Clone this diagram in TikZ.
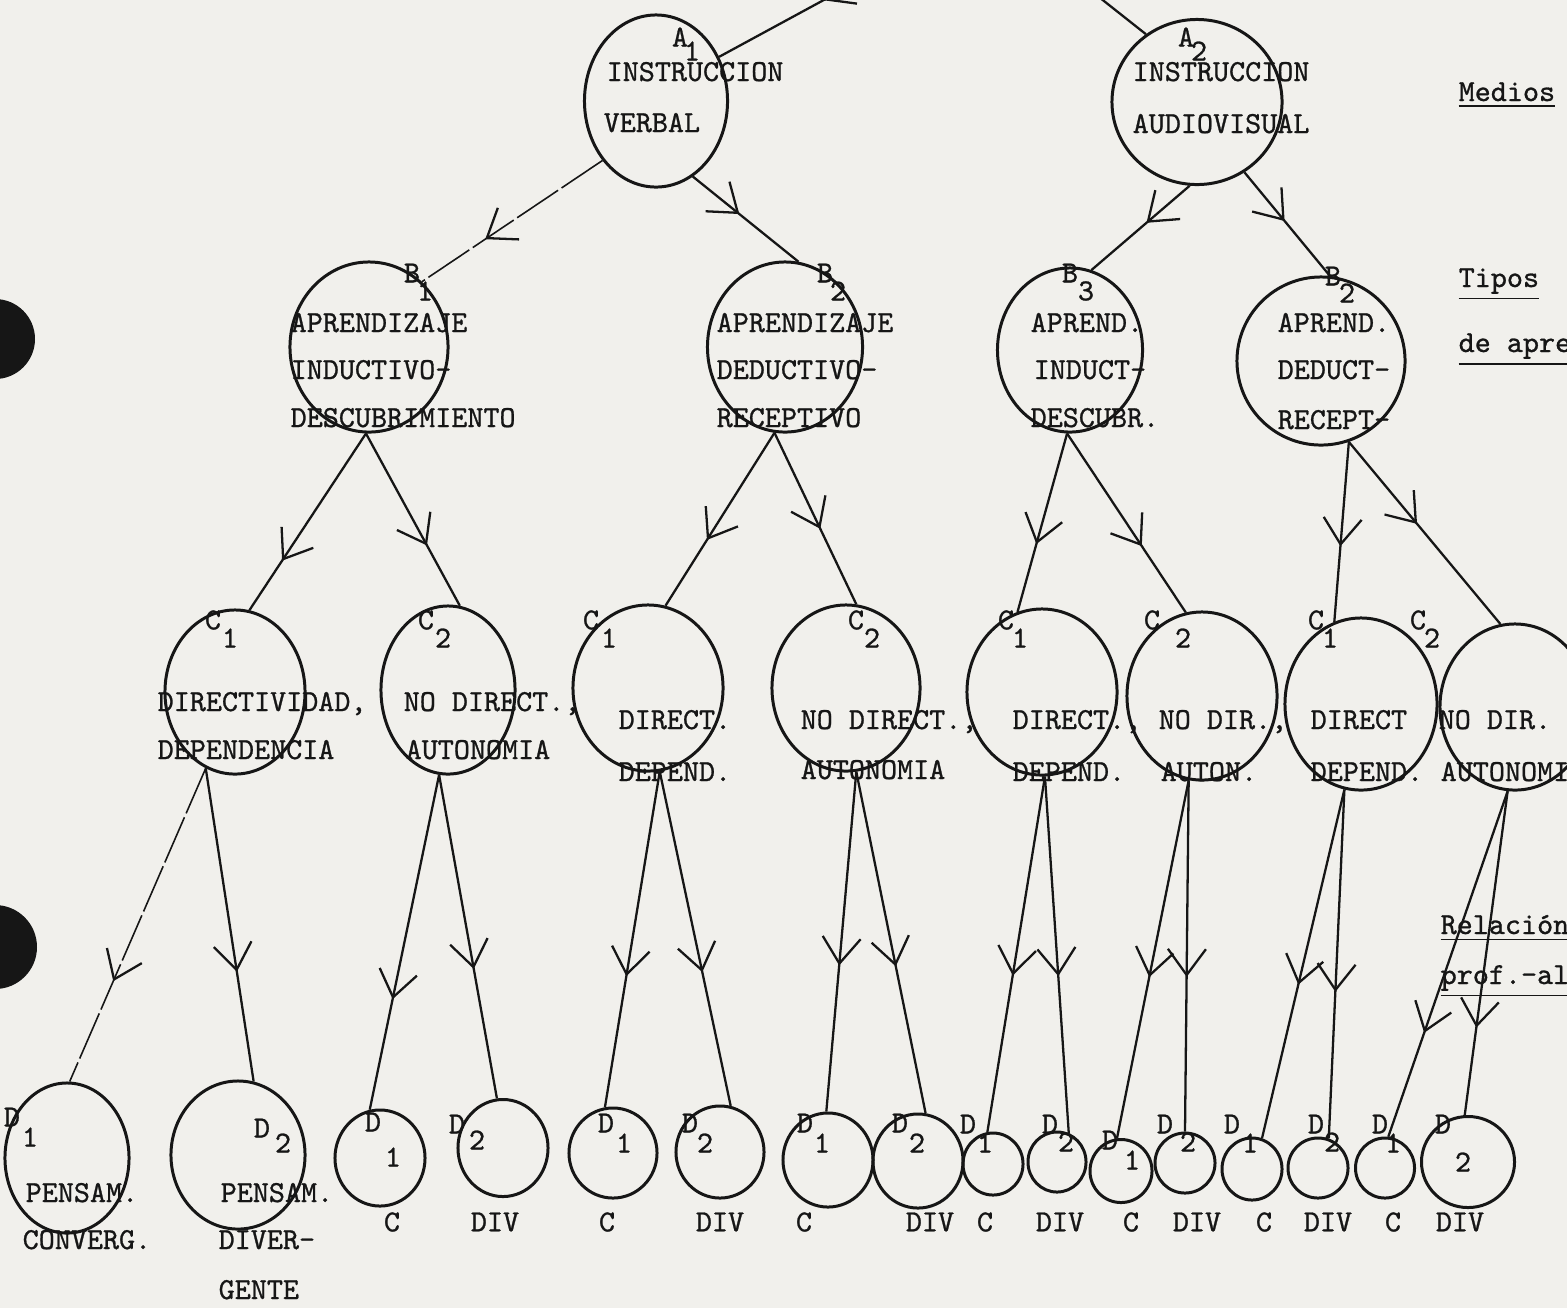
\documentclass[tikz,border=0pt]{standalone}
\usepackage{fontspec}
\newfontfamily\typew[FakeBold=0.9]{lmmono10-regular.otf}
\usetikzlibrary{shapes.geometric,arrows.meta,decorations.markings}
\begin{document}
\begin{tikzpicture}[x=0.01cm, y=-0.01cm,
    bubble/.style 2 args={draw=ink, ellipse, line width=0.85pt, inner sep=0pt, minimum width=#1cm, minimum height=#2cm},
    txt/.style={ink, font=\fontsize{8.7}{10}\selectfont\typew, inner sep=0pt, anchor=base west},
    tag/.style={ink, font=\fontsize{8.7}{10}\selectfont\typew, inner sep=0pt},
    link/.style={draw=ink, color=ink, line width=0.65pt, postaction={decorate},
        decoration={markings, mark=at position #1 with {\arrow{Straight Barb[length=2.6mm, width=3.8mm, line width=0.65pt]}}}},
    faint/.style={line width=0.45pt, dash pattern=on 14pt off 1.2pt}]
    % Define colors
    \definecolor{paper}{RGB}{241,240,236}
    \definecolor{ink}{RGB}{22,22,22}

    % Sheet
    \useasboundingbox (0,0) rectangle (1567,1308);
    \clip (0,0) rectangle (1567,1308);
    \fill[paper] (0,0) rectangle (1567,1308);

    % Punch holes
    \fill[ink] (-5,339) circle (40);
    \fill[ink] (-5,947) circle (42);

    % Level A: medios
    \node[bubble={1.43}{1.72}] (A1) at (656,101) {};
    \node[bubble={1.70}{1.65}] (A2) at (1197,102) {};

    % Level B: tipos de aprendizaje
    \node[bubble={1.58}{1.70}] (B1) at (369,347) {};
    \node[bubble={1.55}{1.70}] (B2) at (785,347) {};
    \node[bubble={1.45}{1.64}] (B3) at (1070,350) {};
    \node[bubble={1.68}{1.68}] (B4) at (1321,361) {};

    % Level C: relacion profesor-alumno
    \node[bubble={1.40}{1.64}] (Ca1) at (235,692) {};
    \node[bubble={1.34}{1.68}] (Ca2) at (448,690) {};
    \node[bubble={1.50}{1.66}] (Cb1) at (648,688) {};
    \node[bubble={1.48}{1.66}] (Cb2) at (846,688) {};
    \node[bubble={1.50}{1.66}] (Cc1) at (1042,692) {};
    \node[bubble={1.50}{1.68}] (Cc2) at (1202,696) {};
    \node[bubble={1.52}{1.72}] (Cd1) at (1361,704) {};
    \node[bubble={1.50}{1.66}] (Cd2) at (1515,707) {};

    % Level D: pensamiento
    \node[bubble={1.24}{1.50}] (Da1) at (67,1158) {};
    \node[bubble={1.34}{1.48}] (Da2) at (238,1155) {};
    \node[bubble={0.90}{0.96}] (Db1) at (380,1158) {};
    \node[bubble={0.90}{0.97}] (Db2) at (503,1148) {};
    \node[bubble={0.88}{0.90}] (Dc1) at (613,1153) {};
    \node[bubble={0.88}{0.92}] (Dc2) at (720,1152) {};
    \node[bubble={0.90}{0.94}] (Dd1) at (828,1160) {};
    \node[bubble={0.90}{0.94}] (Dd2) at (918,1161) {};
    \node[bubble={0.60}{0.62}] (De1) at (993,1164) {};
    \node[bubble={0.58}{0.60}] (De2) at (1057,1162) {};
    \node[bubble={0.62}{0.63}] (Df1) at (1121,1171) {};
    \node[bubble={0.60}{0.60}] (Df2) at (1185,1163) {};
    \node[bubble={0.60}{0.62}] (Dg1) at (1252,1169) {};
    \node[bubble={0.60}{0.60}] (Dg2) at (1318,1168) {};
    \node[bubble={0.59}{0.60}] (Dh1) at (1385,1168) {};
    \node[bubble={0.93}{0.91}] (Dh2) at (1468,1162) {};

    % Incoming lines
    \coordinate (inA) at (868,-24);
    \coordinate (inB) at (1085,-14);
    \draw[link=0.3] (inA) -- (A1.35);
    \draw[draw=ink, line width=0.65pt] (inB) -- (A2.127);

    % A -> B
    \draw[link=0.65, faint] (A1.228) -- (B1.51);
    \draw[link=0.44] (A1.296) -- (B2.81);
    \draw[link=0.44] (A2.265) -- (B3.75);
    \draw[link=0.47] (A2.304) -- (B4.84);

    % B -> C
    \draw[link=0.72] (B1.268) -- (Ca1.80);
    \draw[link=0.65] (B1.268) -- (Ca2.82);
    \draw[link=0.62] (B2.263) -- (Cb1.78);
    \draw[link=0.56] (B2.263) -- (Cb2.83);
    \draw[link=0.62] (B3.268) -- (Cc1.107);
    \draw[link=0.63] (B3.268) -- (Cc2.101);
    \draw[link=0.58] (B4.289) -- (Cd1.108);
    \draw[link=0.45] (B4.289) -- (Cd2.100);

    % C -> D
    \draw[link=0.68, faint] (Ca1.249) -- (Da1.88);
    \draw[link=0.65] (Ca1.249) -- (Da2.78);
    \draw[link=0.67] (Ca2.264) -- (Db1.102);
    \draw[link=0.60] (Ca2.264) -- (Db2.97);
    \draw[link=0.61] (Cb1.278) -- (Dc1.100);
    \draw[link=0.60] (Cb1.278) -- (Dc2.77);
    \draw[link=0.57] (Cb2.277) -- (Dd1.92);
    \draw[link=0.57] (Cb2.277) -- (Dd2.81);
    \draw[link=0.56] (Cc1.272) -- (De1.100);
    \draw[link=0.56] (Cc1.272) -- (De2.68);
    \draw[link=0.55] (Cc2.261) -- (Df1.97);
    \draw[link=0.56] (Cc2.261) -- (Df2.90);
    \draw[link=0.56] (Cd1.259) -- (Dg1.72);
    \draw[link=0.58] (Cd1.259) -- (Dg2.70);
    \draw[link=0.70] (Cd2.265) -- (Dh1.84);
    \draw[link=0.73] (Cd2.265) -- (Dh2.94);

    % Letter tags
    \node[tag] (lA1) at (680,37) {A};   \node[tag] (nA1) at (692,51) {1};
    \node[tag] (lA2) at (1186,37) {A};  \node[tag] (nA2) at (1199,51) {2};
    \node[tag] (lB1) at (412,273) {B};  \node[tag] (nB1) at (425,291) {1};
    \node[tag] (lB2) at (825,273) {B};  \node[tag] (nB2) at (838,291) {2};
    \node[tag] (lB3) at (1070,273) {B}; \node[tag] (nB3) at (1086,291) {3};
    \node[tag] (lB4) at (1333,276) {B}; \node[tag] (nB4) at (1347,293) {2};
    \node[tag] (lCa1) at (213,620) {C};  \node[tag] (nCa1) at (230,638) {1};
    \node[tag] (lCa2) at (426,620) {C};  \node[tag] (nCa2) at (443,638) {2};
    \node[tag] (lCb1) at (591,620) {C};  \node[tag] (nCb1) at (609,638) {1};
    \node[tag] (lCb2) at (856,620) {C};  \node[tag] (nCb2) at (872,638) {2};
    \node[tag] (lCc1) at (1006,620) {C}; \node[tag] (nCc1) at (1020,638) {1};
    \node[tag] (lCc2) at (1152,620) {C}; \node[tag] (nCc2) at (1183,638) {2};
    \node[tag] (lCd1) at (1316,620) {C}; \node[tag] (nCd1) at (1330,638) {1};
    \node[tag] (lCd2) at (1418,620) {C}; \node[tag] (nCd2) at (1432,638) {2};
    \node[tag] (lDa1) at (12,1117) {D};   \node[tag] (nDa1) at (30,1137) {1};
    \node[tag] (lDa2) at (262,1128) {D};  \node[tag] (nDa2) at (283,1143) {2};
    \node[tag] (lDb1) at (373,1122) {D};  \node[tag] (nDb1) at (393,1157) {1};
    \node[tag] (lDb2) at (457,1124) {D};  \node[tag] (nDb2) at (477,1140) {2};
    \node[tag] (lDc1) at (606,1123) {D};  \node[tag] (nDc1) at (624,1143) {1};
    \node[tag] (lDc2) at (690,1123) {D};  \node[tag] (nDc2) at (705,1143) {2};
    \node[tag] (lDd1) at (805,1123) {D};  \node[tag] (nDd1) at (822,1143) {1};
    \node[tag] (lDd2) at (900,1123) {D};  \node[tag] (nDd2) at (917,1143) {2};
    \node[tag] (lDe1) at (968,1124) {D};  \node[tag] (nDe1) at (985,1143) {1};
    \node[tag] (lDe2) at (1050,1124) {D}; \node[tag] (nDe2) at (1066,1142) {2};
    \node[tag] (lDf1) at (1110,1140) {D}; \node[tag] (nDf1) at (1132,1160) {1};
    \node[tag] (lDf2) at (1165,1124) {D}; \node[tag] (nDf2) at (1188,1142) {2};
    \node[tag] (lDg1) at (1232,1124) {D}; \node[tag] (nDg1) at (1250,1143) {1};
    \node[tag] (lDg2) at (1316,1124) {D}; \node[tag] (nDg2) at (1332,1142) {2};
    \node[tag] (lDh1) at (1380,1124) {D}; \node[tag] (nDh1) at (1393,1143) {1};
    \node[tag] (lDh2) at (1443,1124) {D}; \node[tag] (nDh2) at (1463,1162) {2};

    % Texts, level A
    \node[txt] (tA1a) at (606,81) {INSTRUCCION};
    \node[txt] (tA1b) at (603,132) {VERBAL};
    \node[txt] (tA2a) at (1132,81) {INSTRUCCION};
    \node[txt] (tA2b) at (1132,133) {AUDIOVISUAL};

    % Texts, level B
    \node[txt] (tB1a) at (290,332) {APRENDIZAJE};
    \node[txt] (tB1b) at (290,379) {INDUCTIVO-};
    \node[txt] (tB1c) at (290,427) {DESCUBRIMIENTO};
    \node[txt] (tB2a) at (716,332) {APRENDIZAJE};
    \node[txt] (tB2b) at (716,379) {DEDUCTIVO-};
    \node[txt] (tB2c) at (716,427) {RECEPTIVO};
    \node[txt] (tB3a) at (1030,332) {APREND.};
    \node[txt] (tB3b) at (1033,379) {INDUCT-};
    \node[txt] (tB3c) at (1030,427) {DESCUBR.};
    \node[txt] (tB4a) at (1277,332) {APREND.};
    \node[txt] (tB4b) at (1277,379) {DEDUCT-};
    \node[txt] (tB4c) at (1277,429) {RECEPT-};

    % Texts, level C
    \node[txt] (tCa1a) at (157,711) {DIRECTIVIDAD,};
    \node[txt] (tCa1b) at (157,759) {DEPENDENCIA};
    \node[txt] (tCa2a) at (403,711) {NO DIRECT.,};
    \node[txt] (tCa2b) at (405,759) {AUTONOMIA};
    \node[txt] (tCb1a) at (618,729) {DIRECT.};
    \node[txt] (tCb1b) at (618,781) {DEPEND.};
    \node[txt] (tCb2a) at (800,729) {NO DIRECT.,};
    \node[txt] (tCb2b) at (800,779) {AUTONOMIA};
    \node[txt] (tCc1a) at (1012,729) {DIRECT.,};
    \node[txt] (tCc1b) at (1012,781) {DEPEND.};
    \node[txt] (tCc2a) at (1158,729) {NO DIR.,};
    \node[txt] (tCc2b) at (1160,781) {AUTON.};
    \node[txt] (tCd1a) at (1310,729) {DIRECT};
    \node[txt] (tCd1b) at (1310,781) {DEPEND.};
    \node[txt] (tCd2a) at (1438,729) {NO DIR.};
    \node[txt] (tCd2b) at (1440,781) {AUTONOMIA};

    % Texts, level D
    \node[txt] (tDa1a) at (25,1202) {PENSAM.};
    \node[txt] (tDa1b) at (22,1249) {CONVERG.};
    \node[txt] (tDa2a) at (220,1202) {PENSAM.};
    \node[txt] (tDa2b) at (218,1249) {DIVER-};
    \node[txt] (tDa2c) at (218,1299) {GENTE};
    \node[tag] (kDb1) at (392,1222) {C};
    \node[tag] (kDb2) at (495,1222) {DIV};
    \node[tag] (kDc1) at (607,1222) {C};
    \node[tag] (kDc2) at (720,1222) {DIV};
    \node[tag] (kDd1) at (804,1222) {C};
    \node[tag] (kDd2) at (930,1222) {DIV};
    \node[tag] (kDe1) at (985,1222) {C};
    \node[tag] (kDe2) at (1060,1222) {DIV};
    \node[tag] (kDf1) at (1131,1222) {C};
    \node[tag] (kDf2) at (1197,1222) {DIV};
    \node[tag] (kDg1) at (1264,1222) {C};
    \node[tag] (kDg2) at (1328,1222) {DIV};
    \node[tag] (kDh1) at (1393,1222) {C};
    \node[tag] (kDh2) at (1460,1222) {DIV};

    % Margin headings
    \node[txt] (hMed) at (1458,101) {\underline{Medios}};
    \node[txt] (hTip) at (1458,287) {\underline{Tipos}};
    \node[txt] (hApr) at (1458,352) {\underline{de aprendizaje}};
    \node[txt] (hRel) at (1440,934) {\underline{Relación}};
    \node[txt] (hPro) at (1440,984) {\underline{prof.-alumno}};
\end{tikzpicture}
\end{document}
